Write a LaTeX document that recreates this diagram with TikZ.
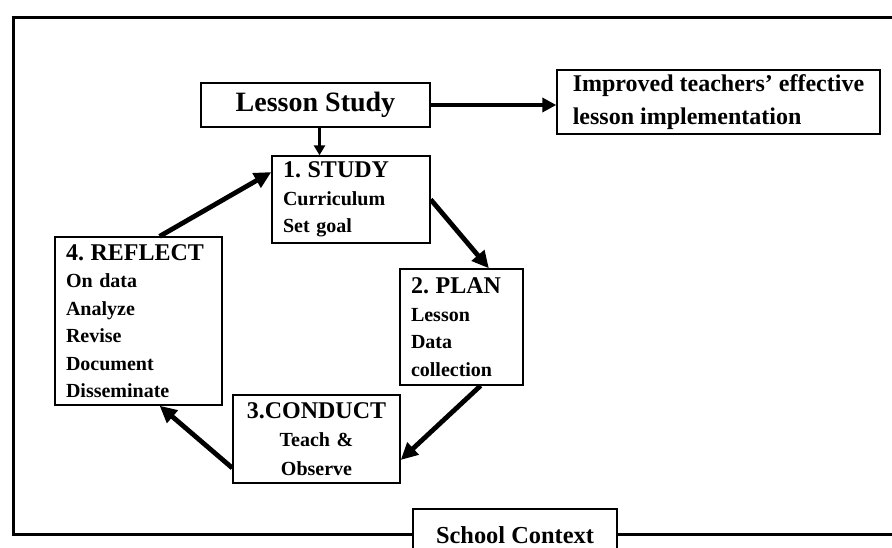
\documentclass[tikz,border=0pt]{standalone}
\usepackage{fontspec}
\setmainfont{Liberation Serif}
\usetikzlibrary{arrows.meta}
\frenchspacing
\newcommand{\headtxt}[2][27.5]{{\bfseries\fontsize{24}{#1}\selectfont #2}}
\begin{document}
\begin{tikzpicture}[x=1pt,y=-1pt,
  box/.style={draw, line width=1.4pt, inner xsep=11pt, inner ysep=0pt, align=left,
    font=\bfseries\fontsize{20}{27.5}\selectfont},
  cyc/.style={line width=4.8pt, -{Triangle[length=17pt,width=16pt]}},
  top/.style={line width=3.8pt, -{Triangle[length=14pt,width=14pt]}}
]
\useasboundingbox (0,0) rectangle (892,547);
\clip (0,0) rectangle (892,547);
% outer frame
\draw[line width=3pt] (13,17) rectangle (920,534);
% nodes
\node[draw, line width=1.4pt, minimum width=229, minimum height=44, inner sep=0pt,
  font=\bfseries\fontsize{28}{32}\selectfont] (ls) at (315.5,105) {Lesson Study};
\node[draw, line width=1.4pt, minimum width=323, minimum height=64, inner sep=0pt, align=left,
  font=\bfseries\fontsize{24}{33}\selectfont]
  (imp) at (718.5,102) {Improved teachers’ effective\\lesson implementation};
\node[box, text width=136, minimum height=87] (study) at (351,199.5)
  {\headtxt{1. STUDY}\\Curriculum\\Set goal};
\node[box, text width=101, minimum height=116] (plan) at (461.5,327)
  {\headtxt{2. PLAN}\\Lesson\\Data\\collection};
\node[box, text width=145, minimum height=88, align=center,
  font=\bfseries\fontsize{20}{28.5}\selectfont] (conduct) at (316.5,439)
  {\headtxt[28.5]{3.CONDUCT}\\Teach \&\\Observe};
\node[box, text width=145, minimum height=168] (reflect) at (138.5,321)
  {\headtxt{4. REFLECT}\\On data\\Analyze\\Revise\\Document\\Disseminate};
\node[draw, line width=2.6pt, fill=white, minimum width=204, minimum height=52, inner sep=0pt,
  font=\bfseries\fontsize{24.4}{28}\selectfont] (school) at (515,535) {School Context};
% connectors
\draw[top] (ls.east) -- (ls.east -| imp.west);
\draw[line width=2.6pt, -{Triangle[length=10pt,width=11pt]}]
  ([xshift=4pt]ls.south) -- ([xshift=4pt]ls.south |- study.north);
\draw[cyc] (study.east) -- (plan.65);
\draw[cyc] (plan.-72) -- (conduct.-14);
\draw[cyc] (conduct.199) -- (reflect.-76);
\draw[cyc] (reflect.76) -- (study.161);
\end{tikzpicture}
\end{document}
